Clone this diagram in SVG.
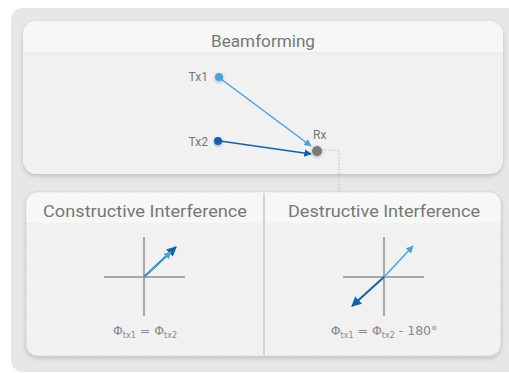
<svg xmlns="http://www.w3.org/2000/svg" width="509" height="373" viewBox="0 0 509 373">
<style>
.lbl{font-family:Roboto,"Liberation Sans",sans-serif;fill:#777;font-size:12px}
.ttl{font-family:Roboto,"Liberation Sans",sans-serif;fill:#777;font-size:17px;text-anchor:middle}
.f{font-family:"DejaVu Sans",sans-serif;fill:#888;font-size:12.5px;text-anchor:middle}
.axis{stroke:#a8a8a8;stroke-width:2}
</style>
<defs>
<filter id="sh" x="-10%" y="-10%" width="120%" height="130%"><feDropShadow dx="0" dy="2" stdDeviation="2" flood-color="#000" flood-opacity="0.18"/></filter>
<filter id="dsh" x="-50%" y="-50%" width="200%" height="200%"><feDropShadow dx="0" dy="1" stdDeviation="1.5" flood-color="#000" flood-opacity="0.3"/></filter>
<marker id="aL" viewBox="0 0 10 10" refX="9" refY="5" markerWidth="5" markerHeight="5" orient="auto"><path d="M0,0L10,5L0,10z" fill="#4aa3df"/></marker>
<marker id="aD" viewBox="0 0 10 10" refX="9" refY="5" markerWidth="5" markerHeight="5" orient="auto"><path d="M0,0L10,5L0,10z" fill="#0f62ae"/></marker>
</defs>
<rect x="11" y="8" width="510" height="364" rx="12" fill="#e7e7e7"/>
<g id="beamforming">
<rect x="23" y="21" width="480" height="153" rx="14" fill="#f1f1f1" filter="url(#sh)"/>
<path d="M23,53V35a14,14 0 0 1 14,-14H489a14,14 0 0 1 14,14V53z" fill="#f6f7f7"/>
<line x1="23" y1="53" x2="503" y2="53" stroke="#e6e6e6"/>
<text class="ttl" x="263" y="47" textLength="104" lengthAdjust="spacingAndGlyphs">Beamforming</text>
</g>
<g id="connectors">
<line x1="221" y1="79" x2="311" y2="146" stroke="#4aa3df" stroke-width="1.5" marker-end="url(#aL)"/>
<line x1="220" y1="141" x2="311" y2="154" stroke="#0f62ae" stroke-width="1.5" marker-end="url(#aD)"/>
<polyline points="322,150 339,150 339,191" fill="none" stroke="#c4c4c4" stroke-width="1.2" stroke-dasharray="1.5,1.5"/>
</g>
<g id="tx1"><circle cx="219" cy="77" r="4" fill="#4aa3df" filter="url(#dsh)"/><text class="lbl" x="208" y="81" text-anchor="end">Tx1</text></g>
<g id="tx2"><circle cx="218" cy="141" r="4" fill="#0f62ae" filter="url(#dsh)"/><text class="lbl" x="208" y="146" text-anchor="end">Tx2</text></g>
<g id="rx"><circle cx="317" cy="151" r="5" fill="#7a7a7a" filter="url(#dsh)"/><text class="lbl" x="313" y="139">Rx</text></g>
<g id="interference">
<rect x="26" y="192" width="475" height="164" rx="12" fill="#f1f1f1" stroke="#c4c4c4" stroke-dasharray="1.5,1.5" filter="url(#sh)"/>
<path d="M26.5,223V204a11.5,11.5 0 0 1 11.5,-11.5H489a11.5,11.5 0 0 1 11.5,11.5V223z" fill="#f6f7f7"/>
<line x1="264" y1="193" x2="264" y2="355" stroke="#c8c8c8" stroke-width="1.5"/>
<text class="ttl" x="145" y="217" textLength="204" lengthAdjust="spacingAndGlyphs">Constructive Interference</text>
<text class="ttl" x="384" y="217" textLength="192" lengthAdjust="spacingAndGlyphs">Destructive Interference</text>
</g>
<g id="constructive">
<line class="axis" x1="144" y1="237" x2="144" y2="316"/>
<line class="axis" x1="104" y1="277" x2="185" y2="277"/>
<line x1="144" y1="277" x2="176" y2="247" stroke="#0f62ae" stroke-width="2" marker-end="url(#aD)"/>
<line x1="144" y1="277" x2="171" y2="252" stroke="#4aa3df" stroke-width="1.5" marker-end="url(#aL)"/>
<text class="f" x="145" y="335">Φ<tspan font-size="8" dy="3">tx1</tspan><tspan dy="-3"> = Φ</tspan><tspan font-size="8" dy="3">tx2</tspan></text>
</g>
<g id="destructive">
<line class="axis" x1="384" y1="237" x2="384" y2="316"/>
<line class="axis" x1="343" y1="277" x2="424" y2="277"/>
<line x1="384" y1="277" x2="413" y2="246" stroke="#4aa3df" stroke-width="1.5" marker-end="url(#aL)"/>
<line x1="384" y1="277" x2="352" y2="306" stroke="#0f62ae" stroke-width="2" marker-end="url(#aD)"/>
<text class="f" x="384" y="335">Φ<tspan font-size="8" dy="3">tx1</tspan><tspan dy="-3"> = Φ</tspan><tspan font-size="8" dy="3">tx2</tspan><tspan dy="-3"> - 180°</tspan></text>
</g>
</svg>
